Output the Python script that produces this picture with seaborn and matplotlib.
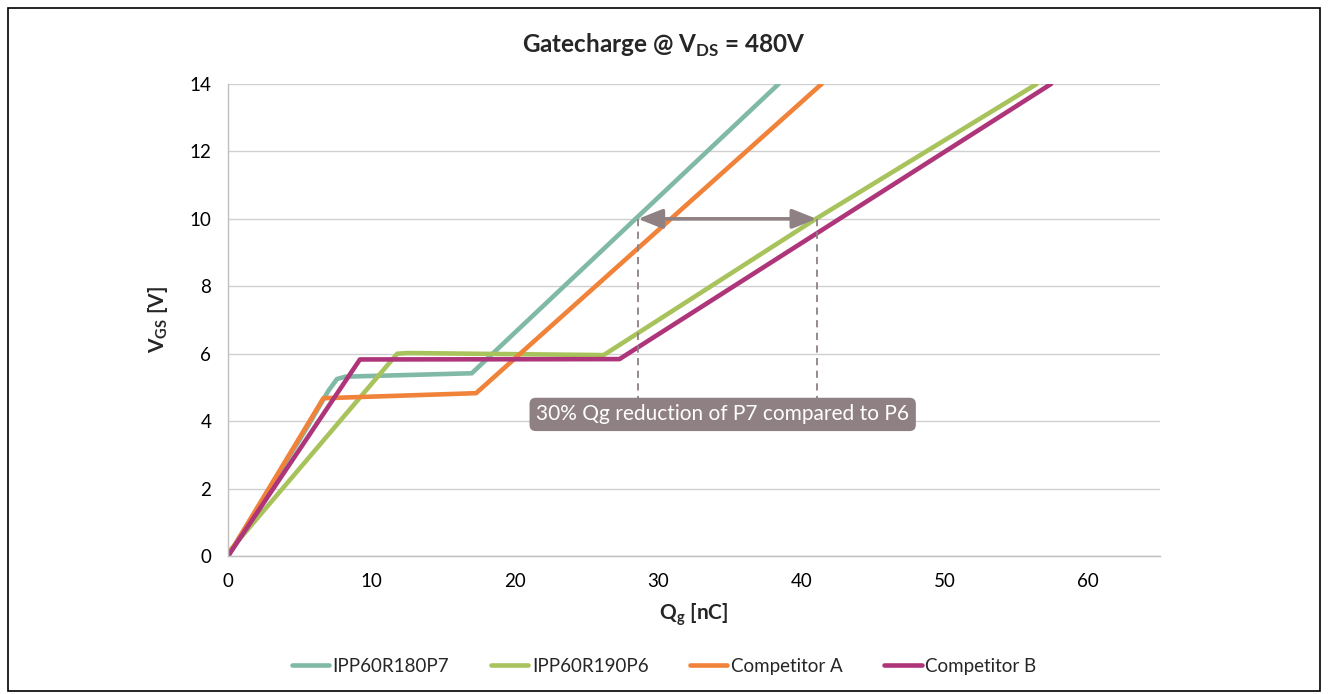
import matplotlib
matplotlib.use("Agg")
import matplotlib.pyplot as plt
from matplotlib.patches import FancyArrowPatch, Rectangle
import seaborn as sns
import pandas as pd

# ---- data ----
series_names = ["IPP60R180P7", "IPP60R190P6", "Competitor A", "Competitor B"]

p7_q = [0, 5.5, 7.0, 7.6, 8.2, 17.0, 38.4]
p7_v = [0, 3.8, 4.9, 5.25, 5.32, 5.42, 14.0]

p6_q = [0, 11.8, 12.5, 26.2, 41.0, 56.4]
p6_v = [0.1, 6.0, 6.02, 5.96, 10.0, 14.0]

compA_q = [0, 6.65, 17.3, 41.4]
compA_v = [0, 4.68, 4.83, 14.0]

compB_q = [0, 9.2, 27.3, 57.4]
compB_v = [0, 5.83, 5.84, 14.0]

x_ticks = [0, 10, 20, 30, 40, 50, 60]
y_ticks = [0, 2, 4, 6, 8, 10, 12, 14]

arrow_from = 28.6
arrow_to = 41.05
arrow_level = 10.0
note_text = "30% Qg reduction of P7 compared to P6"

colors = {
    "IPP60R180P7": "#80b9a5",
    "IPP60R190P6": "#a9c35c",
    "Competitor A": "#f0823a",
    "Competitor B": "#ae3579",
}
note_color = "#8f8083"

rows = []
for name, qs, vs in zip(series_names,
                        [p7_q, p6_q, compA_q, compB_q],
                        [p7_v, p6_v, compA_v, compB_v]):
    for q, v in zip(qs, vs):
        rows.append({"Qg": q, "VGS": v, "series": name})
df = pd.DataFrame(rows)

sns.set_style("white")
plt.rcParams["font.family"] = ["Lato", "DejaVu Sans"]
plt.rcParams["mathtext.fontset"] = "custom"
plt.rcParams["mathtext.rm"] = "Lato"
plt.rcParams["mathtext.bf"] = "Lato:bold"

fig = plt.figure(figsize=(13.28, 6.94), dpi=100)
ax = fig.add_axes([0.1717, 0.1988, 0.8735 - 0.1717, 0.879 - 0.1988])

sns.lineplot(data=df, x="Qg", y="VGS", hue="series", hue_order=series_names,
             palette=colors, sort=False, estimator=None, linewidth=3.3,
             ax=ax, legend=True)

ax.set_xlim(0, 65)
ax.set_ylim(0, 14)
ax.set_xticks(x_ticks)
ax.set_yticks(y_ticks)
ax.yaxis.grid(True, color="#d0d0d0", linewidth=1.0)
ax.xaxis.grid(False)
ax.set_axisbelow(True)
for s in ["top", "right"]:
    ax.spines[s].set_visible(False)
for s in ["left", "bottom"]:
    ax.spines[s].set_color("#bfbfbf")
    ax.spines[s].set_linewidth(1.0)
ax.tick_params(axis="both", which="major", labelsize=13.5, length=6,
               color="#bfbfbf", direction="out", pad=6, colors="#bfbfbf",
               labelcolor="black")

ax.set_xlabel(r"Q$_\mathbf{g}$ [nC]", fontsize=15, fontweight="bold", labelpad=8)
ax.set_ylabel(r"V$_\mathbf{GS}$ [V]", fontsize=15, fontweight="bold", labelpad=14)
fig.text(0.5, 0.934, r"Gatecharge @ V$_\mathbf{DS}$ = 480V", ha="center",
         va="center", fontsize=17.5, fontweight="bold")

# annotation: dashed guides, double arrow, note box
for xq in [arrow_from, arrow_to]:
    ax.plot([xq, xq], [arrow_level, 4.6], linestyle=(0, (4, 3)),
            color=note_color, linewidth=1.3, zorder=5)
arr = FancyArrowPatch((arrow_from, arrow_level), (arrow_to, arrow_level),
                      arrowstyle="<|-|>,head_length=1.05,head_width=0.42",
                      mutation_scale=14, color=note_color, linewidth=2.6,
                      shrinkA=0, shrinkB=0, zorder=6)
ax.add_patch(arr)
ax.text(34.5, 4.2, note_text, ha="center", va="center", fontsize=15,
        color="white", zorder=7,
        bbox=dict(boxstyle="round,pad=0.32,rounding_size=0.3",
                  facecolor=note_color, edgecolor="none"))

# legend
handles, labels = ax.get_legend_handles_labels()
ax.legend_.remove()
fig.legend(handles, labels, loc="center", bbox_to_anchor=(0.5, 0.04),
           ncol=4, frameon=False, fontsize=13.5, handlelength=2.0,
           handletextpad=0.2, columnspacing=2.2)

# outer frame
fig.patches.append(Rectangle((0.006, 0.004), 0.988, 0.984,
                             transform=fig.transFigure, fill=False,
                             edgecolor="black", linewidth=1.2))

fig.savefig("out.png", dpi=100)
